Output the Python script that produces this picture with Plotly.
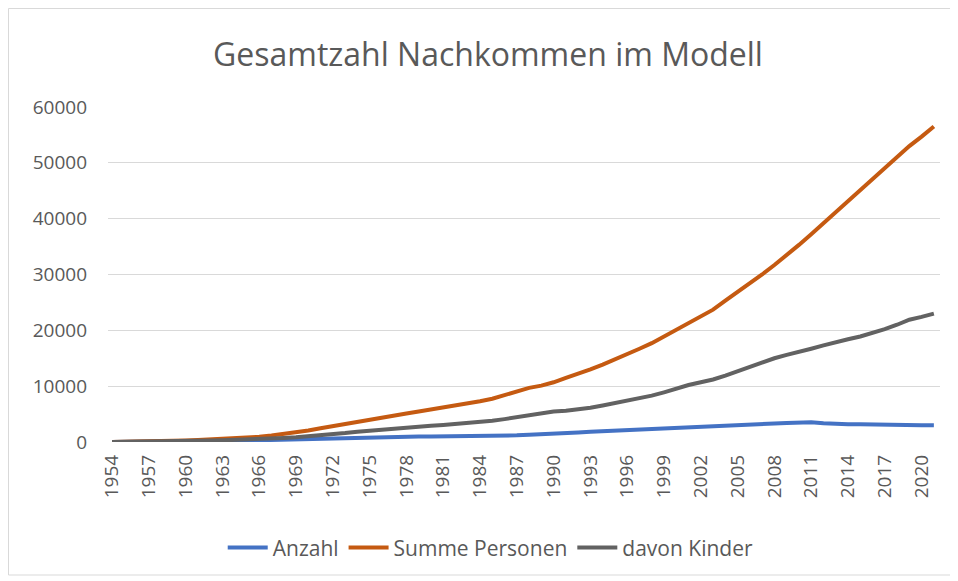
import plotly.graph_objects as go

years = list(range(1954, 2022))

anzahl = [0, 10, 20, 35, 50, 70, 90, 120, 150, 190,
          230, 270, 310, 360, 420, 480, 550, 620, 700, 780,
          860, 930, 960, 980, 990, 1000, 1000, 1010, 1020, 1040,
          1060, 1090, 1130, 1200, 1280, 1350, 1450, 1580, 1700, 1820,
          1930, 2050, 2150, 2250, 2350, 2450, 2530, 2600, 2680, 2800,
          2920, 3030, 3130, 3230, 3320, 3400, 3500, 3550, 3350, 3200,
          3180, 3170, 3120, 2980, 2950, 2980, 3000, 2990]

summe_personen = [0, 20, 50, 90, 140, 200, 260, 340, 430, 540,
                  660, 800, 950, 1150, 1400, 1700, 2050, 2450, 2850, 3250,
                  3650, 4000, 4380, 4750, 5100, 5450, 5800, 6200, 6550, 6900,
                  7300, 7750, 8400, 9100, 9700, 10100, 10700, 11500, 12200, 13000,
                  13850, 14750, 15700, 16700, 17700, 18900, 20200, 21400, 22500, 23700,
                  25300, 26800, 28400, 30000, 31700, 33400, 35300, 37200, 39200, 41200,
                  43100, 45000, 47000, 49000, 51000, 53000, 54700, 56500]

davon_kinder = [0, 10, 30, 50, 80, 110, 150, 200, 250, 300,
                360, 420, 490, 600, 720, 850, 1000, 1200, 1400, 1600,
                1850, 2050, 2250, 2420, 2580, 2750, 2900, 3050, 3200, 3350,
                3550, 3800, 4100, 4450, 4800, 5200, 5450, 5600, 5800, 6150,
                6550, 7000, 7400, 7800, 8300, 8900, 9600, 10200, 10700, 11200,
                11900, 12700, 13500, 14300, 15000, 15600, 16100, 16700, 17300, 17900,
                18400, 18900, 19500, 20200, 21000, 21900, 22400, 23000]

tick_years = years[::3]
tick_text = [str(y) for y in tick_years]
y_ticks = [0, 10000, 20000, 30000, 40000, 50000, 60000]

FONT = "Open Sans"
TXT = "#595959"

W, H = 958, 581
ML, MT, PW, PH = 100, 99, 832, 335

fig = go.Figure()
fig.add_trace(go.Scatter(x=years, y=anzahl, mode="lines", name="Anzahl",
                         line=dict(color="#4472C4", width=4)))
fig.add_trace(go.Scatter(x=years, y=summe_personen, mode="lines", name="Summe Personen",
                         line=dict(color="#C55A11", width=4)))
fig.add_trace(go.Scatter(x=years, y=davon_kinder, mode="lines", name="davon Kinder",
                         line=dict(color="#626262", width=4)))

fig.update_layout(
    width=W, height=H,
    paper_bgcolor="white", plot_bgcolor="white",
    margin=dict(l=ML, r=W - ML - PW, t=MT, b=H - MT - PH, autoexpand=False),
    font=dict(family=FONT, color=TXT, size=19),
    title=dict(text="Gesamtzahl Nachkommen im Modell", x=0.501, xanchor="center",
               y=0.919, yanchor="middle", font=dict(family=FONT, size=32, color=TXT)),
    showlegend=True,
    legend=dict(orientation="h", x=0.46, xanchor="center", y=-0.255, yanchor="top",
                font=dict(family=FONT, size=21, color=TXT), itemwidth=40,
                traceorder="normal"),
    shapes=[dict(type="rect", xref="paper", yref="paper",
                 x0=(0.5 - ML) / PW, x1=(945 - ML) / PW,
                 y0=(MT + PH - 567) / PH, y1=(MT + PH - 0.5) / PH,
                 line=dict(color="#D9D9D9", width=1), layer="below")],
)
fig.update_xaxes(type="linear", range=[1953.67, 2021.5], tickmode="array",
                 tickvals=tick_years, ticktext=tick_text, tickangle=-90,
                 showgrid=False, zeroline=False, showline=False, automargin=False,
                 ticklabelstandoff=8, tickfont=dict(size=19, color=TXT))
fig.update_yaxes(range=[0, 60000], tickmode="array", tickvals=y_ticks,
                 ticktext=[str(v) for v in y_ticks], automargin=False,
                 showgrid=True, gridcolor="#D9D9D9", gridwidth=1,
                 zeroline=False, showline=False, ticklabelstandoff=20,
                 tickfont=dict(size=19, color=TXT))

fig.write_html("out.html")
